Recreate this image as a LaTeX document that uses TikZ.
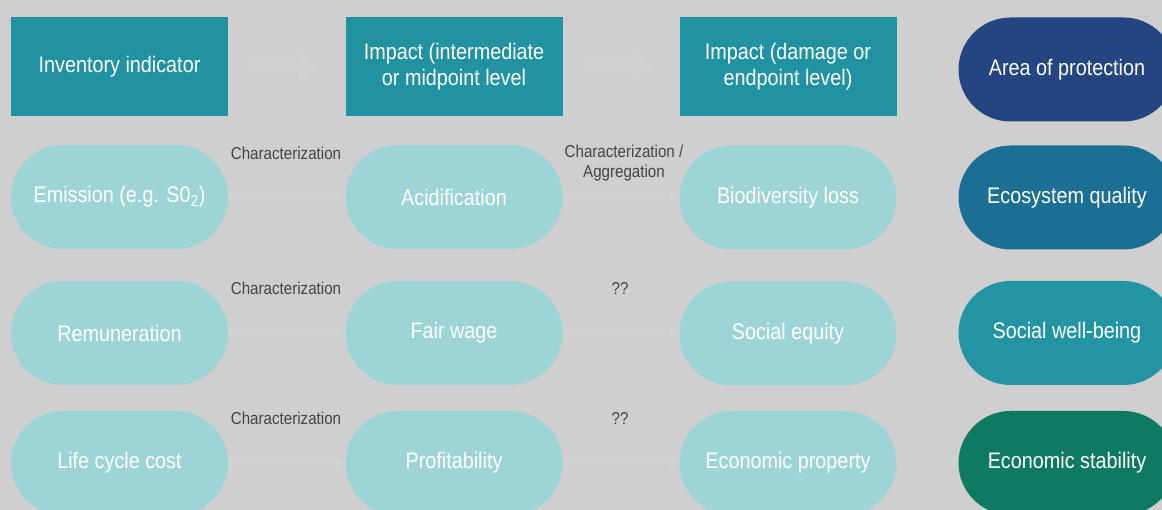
\documentclass[tikz,border=0pt]{standalone}
\usepackage{fontspec}
\setmainfont{Liberation Sans}[FakeStretch=0.88]
\usetikzlibrary{shapes.misc,arrows.meta}
\definecolor{bgc}{HTML}{CFCFCF}
\definecolor{headc}{HTML}{2192A1}
\definecolor{pillc}{HTML}{9DD5D6}
\definecolor{aopc}{HTML}{244582}
\definecolor{ecoc}{HTML}{1C6F94}
\definecolor{socc}{HTML}{2394A3}
\definecolor{econc}{HTML}{0E7A61}
\definecolor{labc}{HTML}{444444}
\definecolor{faintc}{HTML}{D2D2D2}
\definecolor{faintbig}{HTML}{D1D1D1}
\tikzset{
  headbox/.style={rectangle, fill=headc, minimum width=217pt, minimum height=99pt, text=white, font=\fontsize{22.5}{26}\selectfont, align=center, inner sep=0pt},
  pill/.style={rounded rectangle, fill=pillc, minimum width=217pt, minimum height=104pt, text=white, font=\fontsize{22.5}{26}\selectfont, align=center, inner sep=0pt},
  aop/.style={pill, fill=#1},
  lab/.style={text=labc, font=\fontsize{17.2}{20}\selectfont, align=center, inner sep=0pt},
  faint/.style={draw=faintc, line width=1.5pt, -{Triangle[length=10pt,width=12pt]}},
  fainthead/.style={draw=faintbig, line width=12pt, -{Triangle[length=22pt,width=30pt]}}
}
\begin{document}
\begin{tikzpicture}[x=1pt,y=-1pt]
\useasboundingbox (0,0) rectangle (1162,510);
\fill[bgc] (0,0) rectangle (1162,510);
\begin{scope}
\clip (0,0) rectangle (1162,510);
% header row
\node[headbox] (h1) at (119.5,66.5) {Inventory indicator};
\node[headbox] (h2) at (454,66.5) {Impact (intermediate\\or midpoint level};
\node[headbox] (h3) at (788,66.5) {Impact (damage or\\endpoint level)};
\node[aop=aopc] (h4) at (1067,69.5) {Area of protection};
% row 1
\node[pill] (a1) at (119.5,197) {Emission (e.g. S0\textsubscript{2})};
\node[pill] (a2) at (454,197) {Acidification};
\node[pill] (a3) at (788,197.5) {Biodiversity loss};
\node[aop=ecoc] (a4) at (1067,197.5) {Ecosystem quality};
% row 2
\node[pill] (b1) at (119.5,333) {Remuneration};
\node[pill] (b2) at (454,333) {Fair wage};
\node[pill] (b3) at (788,333.5) {Social equity};
\node[aop=socc] (b4) at (1067,333) {Social well-being};
% row 3
\node[pill] (c1) at (119.5,463) {Life cycle cost};
\node[pill] (c2) at (454,463) {Profitability};
\node[pill] (c3) at (788,463) {Economic property};
\node[aop=econc] (c4) at (1067,463) {Economic stability};
\end{scope}
% faint arrows
\draw[fainthead] ([xshift=20pt]h1.east) -- ([xshift=-25pt]h2.west);
\draw[fainthead] ([xshift=20pt]h2.east) -- ([xshift=-25pt]h3.west);
\draw[faint] (a1.east) -- (a2.west);
\draw[faint] (a2.east) -- (a3.west);
\draw[faint] (b1.east) -- (b2.west);
\draw[faint] (b2.east) -- (b3.west);
\draw[faint] (c1.east) -- (c2.west);
\draw[faint] (c2.east) -- (c3.west);
% labels
\node[lab] (l1) at (286,153) {Characterization};
\node[lab] (l2) at (624,163) {Characterization /\\Aggregation};
\node[lab] (l3) at (286,288) {Characterization};
\node[lab] (l4) at (620,288) {??};
\node[lab] (l5) at (286,418) {Characterization};
\node[lab] (l6) at (620,418) {??};
\end{tikzpicture}
\end{document}
